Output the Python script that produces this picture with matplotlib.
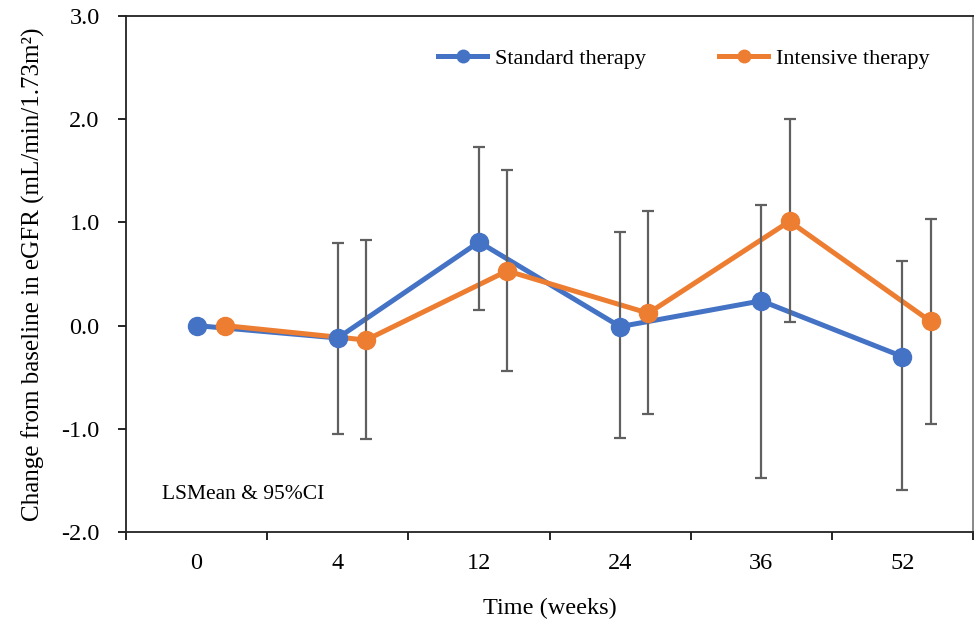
import matplotlib.pyplot as plt
import numpy as np
from matplotlib.lines import Line2D

# data
weeks = ['0', '4', '12', '24', '36', '52']
std_mean = [0.0, -0.12, 0.81, -0.01, 0.24, -0.30]
std_low = [0.0, -1.05, 0.15, -1.09, -1.48, -1.59]
std_high = [0.0, 0.80, 1.73, 0.91, 1.17, 0.63]
int_mean = [0.0, -0.14, 0.53, 0.12, 1.01, 0.04]
int_low = [0.0, -1.10, -0.44, -0.86, 0.03, -0.95]
int_high = [0.0, 0.83, 1.51, 1.11, 2.00, 1.03]

plt.rcParams['font.family'] = ['Liberation Serif', 'DejaVu Serif']
plt.rcParams['font.size'] = 16

blue = '#4472C4'
orange = '#ED7D31'
grey = '#606060'

fig = plt.figure(figsize=(9.74, 6.22), dpi=100)
ax = fig.add_axes([0.1294, 0.1447, 0.8696, 0.8296])

x = np.arange(len(weeks))
offset = 0.2

def draw(xpos, mean, low, high, color, label):
    mean = np.array(mean)
    err = np.array([mean - np.array(low), np.array(high) - mean])
    has = err.sum(axis=0) > 0
    ax.errorbar(xpos[has], mean[has], yerr=err[:, has], fmt='none', ecolor=grey,
                elinewidth=1.6, capsize=4.5, capthick=1.6, zorder=3)
    ax.plot(xpos, mean, color=color, lw=3.6, zorder=2, label=label)
    ax.plot(xpos, mean, 'o', color=color, ms=13, zorder=4)

draw(x, std_mean, std_low, std_high, blue, 'Standard therapy')
draw(x + offset, int_mean, int_low, int_high, orange, 'Intensive therapy')

ax.set_xlim(-0.5, 5.5)
ax.set_ylim(-2.0, 3.0)
yt = np.arange(-2, 3.01, 1.0)
ax.set_yticks(yt)
ax.set_yticklabels(['%.1f' % v for v in yt], fontsize=17.5)
ax.tick_params(axis='y', direction='out', length=6, width=1.2, pad=13)

ax.set_xticks(np.arange(-0.5, 5.51, 1.0))
ax.set_xticklabels([])
ax.set_xticks(x, minor=True)
ax.set_xticklabels(weeks, minor=True, fontsize=17.5)
ax.tick_params(axis='x', which='major', direction='out', length=6, width=1.2)
ax.tick_params(axis='x', which='minor', length=0, pad=15)

for s in ['left', 'bottom', 'top']:
    ax.spines[s].set_color('#222222')
    ax.spines[s].set_linewidth(1.3)
ax.spines['right'].set_color('#7f7f7f')
ax.spines['right'].set_linewidth(1.3)

ax.set_ylabel('Change from baseline in eGFR (mL/min/1.73m²)', labelpad=12, fontsize=18)
ax.set_xlabel('Time (weeks)', labelpad=17, fontsize=17.5)

ax.text(0.043, 0.072, 'LSMean & 95%CI', transform=ax.transAxes, ha='left', va='center',
        fontsize=15.5)

handles = [Line2D([], [], color=blue, lw=3.6, marker='o', ms=9),
           Line2D([], [], color=orange, lw=3.6, marker='o', ms=9)]
ax.legend(handles, ['Standard therapy', 'Intensive therapy'], ncol=2, frameon=False,
          loc='center right', bbox_to_anchor=(0.962, 0.918), borderpad=0,
          handlelength=2.2, handletextpad=0.35, columnspacing=3.3, fontsize=16)

fig.savefig('out.png', dpi=100)
